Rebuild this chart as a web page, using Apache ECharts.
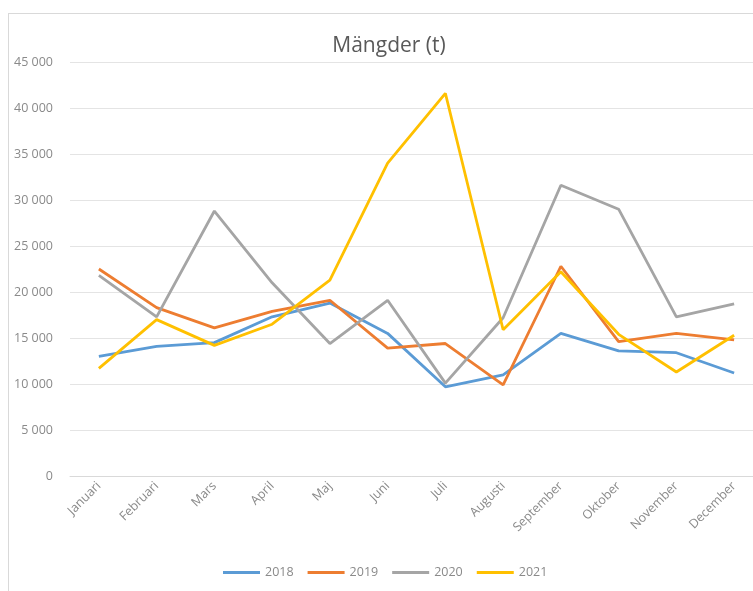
<!DOCTYPE html>
<html>
<head>
<meta charset="utf-8">
<script src="https://cdn.jsdelivr.net/npm/echarts@6/dist/echarts.min.js"></script>
<style>
  html, body { margin: 0; padding: 0; background: #fff; overflow: hidden; }
  #chart { width: 753px; height: 591px; }
  #frame {
    position: absolute; left: 8px; top: 13px; width: 760px; height: 600px;
    border-left: 1px solid #d9d9d9; border-top: 1px solid #d9d9d9;
    pointer-events: none;
  }
</style>
</head>
<body>
<div id="chart"></div>
<div id="frame"></div>
<script>
// kategorier och serier
var months = ['Januari', 'Februari', 'Mars', 'April', 'Maj', 'Juni', 'Juli',
  'Augusti', 'September', 'Oktober', 'November', 'December'];
var years = ['2018', '2019', '2020', '2021'];
var y2018 = [13000, 14100, 14500, 17300, 18800, 15500, 9700, 11000, 15500, 13600, 13400, 11200];
var y2019 = [22500, 18300, 16100, 17900, 19100, 13900, 14400, 9900, 22800, 14600, 15500, 14800];
var y2020 = [21800, 17300, 28800, 21000, 14400, 19100, 10100, 17200, 31600, 29000, 17300, 18700];
var y2021 = [11700, 17000, 14200, 16500, 21300, 34000, 41600, 15900, 22200, 15400, 11300, 15300];
var colors = ['#5B9BD5', '#ED7D31', '#A5A5A5', '#FFC000'];

var chart = echarts.init(document.getElementById('chart'));

function fmt(v) {
  return String(v).replace(/\B(?=(\d{3})+(?!\d))/g, ' ');
}

function line(name, data, i) {
  return {
    name: name,
    type: 'line',
    data: data,
    symbol: 'none',
    lineStyle: { width: 2.8, color: colors[i] },
    itemStyle: { color: colors[i] }
  };
}

chart.setOption({
  animation: false,
  textStyle: { fontFamily: 'Open Sans, DejaVu Sans, sans-serif' },
  title: {
    text: 'Mängder (t)',
    left: 384,
    top: 31,
    textAlign: 'center',
    textStyle: { fontSize: 21, fontWeight: 'normal', color: '#595959' }
  },
  legend: {
    data: years,
    bottom: 7,
    left: 218,
    itemWidth: 37,
    itemHeight: 3,
    itemGap: 14,
    icon: 'rect',
    textStyle: { fontSize: 12.5, color: '#8a8a8a' }
  },
  grid: { left: 70, right: -10, top: 62, bottom: 115, outerBoundsMode: 'none' },
  xAxis: {
    type: 'category',
    data: months,
    boundaryGap: true,
    axisLine: { lineStyle: { color: '#d9d9d9' } },
    axisTick: { show: false },
    axisLabel: { rotate: 45, fontSize: 12.5, color: '#8a8a8a', margin: 8, interval: 0 }
  },
  yAxis: {
    type: 'value',
    min: 0,
    max: 45000,
    interval: 5000,
    axisLine: { show: false },
    axisTick: { show: false },
    splitLine: { lineStyle: { color: '#e4e4e4' } },
    axisLabel: { fontSize: 12.5, color: '#8a8a8a', margin: 17, formatter: fmt }
  },
  series: [
    line(years[0], y2018, 0),
    line(years[1], y2019, 1),
    line(years[2], y2020, 2),
    line(years[3], y2021, 3)
  ]
});
</script>
</body>
</html>
